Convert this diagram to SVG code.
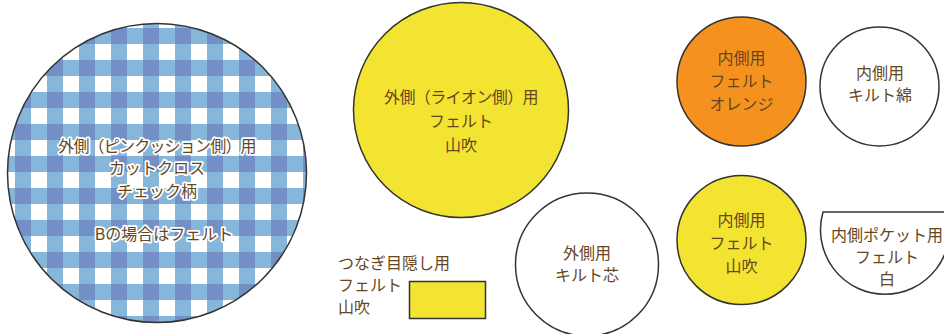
<svg xmlns="http://www.w3.org/2000/svg" width="944" height="334" viewBox="0 0 944 334">
<defs>
<pattern id="gingham" patternUnits="userSpaceOnUse" x="15" y="28" width="32" height="32">
<rect x="0" y="0" width="32" height="32" fill="#ffffff"/>
<rect x="0" y="0" width="16" height="32" fill="#86b6da"/>
<rect x="0" y="0" width="32" height="16" fill="#86b6da"/>
<rect x="0" y="0" width="16" height="16" fill="#7290c6"/>
</pattern>
</defs>
<style>
.shape{stroke:#333333;stroke-width:1.5}
.lbl{font-family:"Noto Sans CJK JP","Noto Sans",sans-serif;font-size:16px;fill:#66461e;text-anchor:middle}
.halo{stroke:#ffffff;stroke-width:3.5px;stroke-linejoin:round;paint-order:stroke}
.left{text-anchor:start}
</style>
<g id="node-gingham">
<circle class="shape" cx="157" cy="173" r="149.5" fill="url(#gingham)"/>
<text class="lbl halo" x="157" y="152" letter-spacing="-0.8">外側（ピンクッション側）用</text>
<text class="lbl halo" x="157" y="174">カットクロス</text>
<text class="lbl halo" x="157" y="197">チェック柄</text>
<text class="lbl halo" x="164" y="240">Bの場合はフェルト</text>
</g>
<g id="node-lion">
<circle class="shape" cx="461" cy="110" r="107.5" fill="#f3e431"/>
<text class="lbl" x="461" y="103" letter-spacing="-0.6">外側（ライオン側）用</text>
<text class="lbl" x="461" y="127">フェルト</text>
<text class="lbl" x="461" y="151">山吹</text>
</g>
<g id="node-quilt-core">
<circle class="shape" cx="587" cy="264.5" r="71.5" fill="#ffffff"/>
<text class="lbl" x="587" y="259">外側用</text>
<text class="lbl" x="587" y="281">キルト芯</text>
</g>
<g id="node-joint">
<text class="lbl left" x="338" y="269">つなぎ目隠し用</text>
<text class="lbl left" x="338" y="291">フェルト</text>
<text class="lbl left" x="338" y="313">山吹</text>
<rect class="shape" x="409.5" y="281.5" width="76" height="37" fill="#f3e431"/>
</g>
<g id="node-orange">
<circle class="shape" cx="741.5" cy="81.5" r="64.5" fill="#f5921f"/>
<text class="lbl" x="741.5" y="64">内側用</text>
<text class="lbl" x="741.5" y="87">フェルト</text>
<text class="lbl" x="741.5" y="110">オレンジ</text>
</g>
<g id="node-quilt-cotton">
<circle class="shape" cx="879.5" cy="86.5" r="59.5" fill="#ffffff"/>
<text class="lbl" x="880" y="79">内側用</text>
<text class="lbl" x="880" y="101">キルト綿</text>
</g>
<g id="node-inner-yellow">
<circle class="shape" cx="741.5" cy="240" r="64.5" fill="#f3e431"/>
<text class="lbl" x="741.5" y="226">内側用</text>
<text class="lbl" x="741.5" y="249">フェルト</text>
<text class="lbl" x="741.5" y="272">山吹</text>
</g>
<g id="node-pocket">
<path class="shape" d="M823 212 A64.5 64.5 0 1 0 947 212 Z" fill="#ffffff"/>
<text class="lbl" x="887" y="241">内側ポケット用</text>
<text class="lbl" x="887" y="263">フェルト</text>
<text class="lbl" x="887" y="285">白</text>
</g>
<g id="connectors"></g>
</svg>
